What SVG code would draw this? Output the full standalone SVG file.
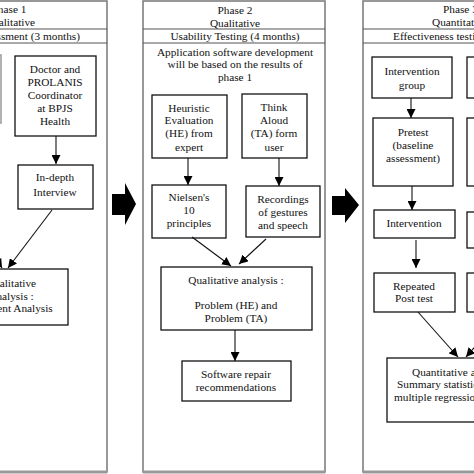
<svg xmlns="http://www.w3.org/2000/svg" width="474" height="474" viewBox="0 0 474 474">
<defs>
<marker id="ah" viewBox="0 0 10 10" refX="10" refY="5" markerWidth="9" markerHeight="9" markerUnits="userSpaceOnUse" orient="auto">
<path d="M0,0 L10,5 L0,10 z" fill="#000"/>
</marker>
<style>
.col{fill:#fff;stroke:#777;stroke-width:1.5}
.hd{stroke:#555;stroke-width:1.2}
.bot{stroke:#999;stroke-width:3}
.box{fill:#fff;stroke:#111;stroke-width:1.3}
.gbox{fill:#fff;stroke:#999;stroke-width:1.5}
text{font-family:"Liberation Serif","Times New Roman",serif;font-size:11.3px;fill:#111}
.c{text-anchor:middle}
.s{text-anchor:start}
.e{text-anchor:end}
.ln{stroke:#111;stroke-width:1.1;fill:none}
.blk{fill:#000}
</style>
</defs>
<rect width="474" height="474" fill="#fff"/>

<g id="phase1">
<rect class="col" x="-90" y="1" width="197" height="471"/>
<line class="hd" x1="-90" y1="29" x2="107" y2="29"/>
<line class="hd" x1="-90" y1="43" x2="107" y2="43"/>
<line class="bot" x1="-90" y1="472" x2="107" y2="472"/>
<text class="c" x="9" y="13">Phase 1</text>
<text class="c" x="10" y="26">Qualitative</text>
<text class="e" x="80" y="40">Assessment (3 months)</text>
</g>

<g id="phase2">
<rect class="col" x="143" y="1" width="182" height="471"/>
<line class="hd" x1="143" y1="29" x2="325" y2="29"/>
<line class="hd" x1="143" y1="43" x2="325" y2="43"/>
<line class="bot" x1="143" y1="472" x2="325" y2="472"/>
<text class="c" x="235" y="14">Phase 2</text>
<text class="c" x="235" y="27">Qualitative</text>
<text class="c" x="235" y="40">Usability Testing (4 months)</text>
<text class="c" x="235" y="56">Application software development</text>
<text class="c" x="235" y="68">will be based on the results of</text>
<text class="c" x="235" y="81">phase 1</text>
</g>

<g id="phase3">
<rect class="col" x="363" y="1" width="200" height="471"/>
<line class="hd" x1="363" y1="29" x2="563" y2="29"/>
<line class="hd" x1="363" y1="43" x2="563" y2="43"/>
<line class="bot" x1="363" y1="472" x2="563" y2="472"/>
<text class="s" x="443" y="13">Phase 3</text>
<text class="s" x="432" y="26">Quantitative</text>
<text class="s" x="393" y="40">Effectiveness testing</text>
</g>

<g id="arrow1"><path class="blk" d="M112,194 L125,194 L125,183 L136,204 L125,225 L125,215 L112,215 z"/></g>
<g id="arrow2"><path class="blk" d="M332,196 L345,196 L345,188 L359,205 L345,223 L345,215 L332,215 z"/></g>

<g id="left-box"><rect class="gbox" x="-60" y="55" width="61" height="68"/></g>

<g id="doctor">
<rect class="box" x="15" y="56" width="81" height="80"/>
<text class="c" x="55" y="73">Doctor and</text>
<text class="c" x="55" y="86">PROLANIS</text>
<text class="c" x="55" y="99">Coordinator</text>
<text class="c" x="55" y="112">at BPJS</text>
<text class="c" x="55" y="125">Health</text>
</g>

<g id="interview">
<rect class="box" x="18" y="165" width="75" height="44"/>
<text class="c" x="55" y="181">In-depth</text>
<text class="c" x="55" y="196">Interview</text>
</g>

<g id="content-analysis">
<rect class="box" x="-60" y="269" width="128" height="56"/>
<text class="c" x="11" y="287">Qualitative</text>
<text class="c" x="11" y="300">Analysis :</text>
<text class="c" x="14" y="312">Content Analysis</text>
</g>

<g id="heuristic">
<rect class="box" x="152" y="95" width="75" height="63"/>
<text class="c" x="189" y="112">Heuristic</text>
<text class="c" x="189" y="124">Evaluation</text>
<text class="c" x="189" y="137">(HE) from</text>
<text class="c" x="189" y="151">expert</text>
</g>

<g id="think-aloud">
<rect class="box" x="242" y="94" width="65" height="64"/>
<text class="c" x="274" y="111">Think</text>
<text class="c" x="274" y="124">Aloud</text>
<text class="c" x="274" y="137">(TA) form</text>
<text class="c" x="274" y="151">user</text>
</g>

<g id="nielsen">
<rect class="box" x="152" y="185" width="74" height="53"/>
<text class="c" x="189" y="201">Nielsen's</text>
<text class="c" x="189" y="214">10</text>
<text class="c" x="189" y="227">principles</text>
</g>

<g id="recordings">
<rect class="box" x="246" y="186" width="74" height="51"/>
<text class="c" x="283" y="203">Recordings</text>
<text class="c" x="283" y="216">of gestures</text>
<text class="c" x="283" y="229">and speech</text>
</g>

<g id="qual-analysis">
<rect class="box" x="161" y="267" width="151" height="63"/>
<text class="c" x="236" y="284">Qualitative analysis :</text>
<text class="c" x="236" y="309">Problem (HE) and</text>
<text class="c" x="236" y="322">Problem (TA)</text>
</g>

<g id="software-repair">
<rect class="box" x="182" y="361" width="109" height="40"/>
<text class="c" x="236" y="378">Software repair</text>
<text class="c" x="236" y="391">recommendations</text>
</g>

<g id="intervention-group">
<rect class="box" x="372" y="57" width="80" height="41"/>
<text class="c" x="412" y="75">Intervention</text>
<text class="c" x="412" y="89">group</text>
</g>

<g id="control-group"><rect class="box" x="467" y="57" width="60" height="41"/></g>

<g id="pretest">
<rect class="box" x="373" y="118" width="80" height="68"/>
<text class="c" x="413" y="136">Pretest</text>
<text class="c" x="413" y="149">(baseline</text>
<text class="c" x="413" y="162">assessment)</text>
</g>

<g id="control-pretest"><rect class="box" x="467" y="118" width="60" height="68"/></g>

<g id="intervention">
<rect class="box" x="374" y="210" width="81" height="28"/>
<text class="c" x="414" y="227">Intervention</text>
</g>

<g id="control-middle"><rect class="box" x="467" y="212" width="60" height="36"/></g>

<g id="post-test">
<rect class="box" x="374" y="273" width="81" height="39"/>
<text class="c" x="414" y="290">Repeated</text>
<text class="c" x="414" y="302">Post test</text>
</g>

<g id="control-post"><rect class="box" x="467" y="273" width="60" height="39"/></g>

<g id="quant-analysis">
<rect class="box" x="387" y="358" width="140" height="64"/>
<text class="s" x="412" y="376">Quantitative analysis :</text>
<text class="s" x="397" y="388">Summary statistics and</text>
<text class="s" x="394" y="401">multiple regression</text>
</g>

<g id="connectors">
<line class="ln" x1="56" y1="136" x2="56" y2="164" marker-end="url(#ah)"/>
<line class="ln" x1="52" y1="210" x2="8" y2="268" marker-end="url(#ah)"/>
<line class="ln" x1="-30" y1="215" x2="2" y2="268" marker-end="url(#ah)"/>
<line class="ln" x1="188" y1="158" x2="188" y2="185" marker-end="url(#ah)"/>
<line class="ln" x1="279" y1="158" x2="279" y2="186" marker-end="url(#ah)"/>
<line class="ln" x1="192" y1="237" x2="231" y2="266" marker-end="url(#ah)"/>
<line class="ln" x1="266" y1="239" x2="239" y2="264" marker-end="url(#ah)"/>
<line class="ln" x1="235" y1="330" x2="235" y2="361" marker-end="url(#ah)"/>
<line class="ln" x1="411" y1="98" x2="411" y2="118" marker-end="url(#ah)"/>
<line class="ln" x1="412" y1="186" x2="412" y2="210" marker-end="url(#ah)"/>
<line class="ln" x1="416" y1="240" x2="416" y2="268" marker-end="url(#ah)"/>
<line class="ln" x1="418" y1="312" x2="458" y2="357" marker-end="url(#ah)"/>
<line class="ln" x1="500" y1="318" x2="466" y2="357" marker-end="url(#ah)"/>
</g>
</svg>
